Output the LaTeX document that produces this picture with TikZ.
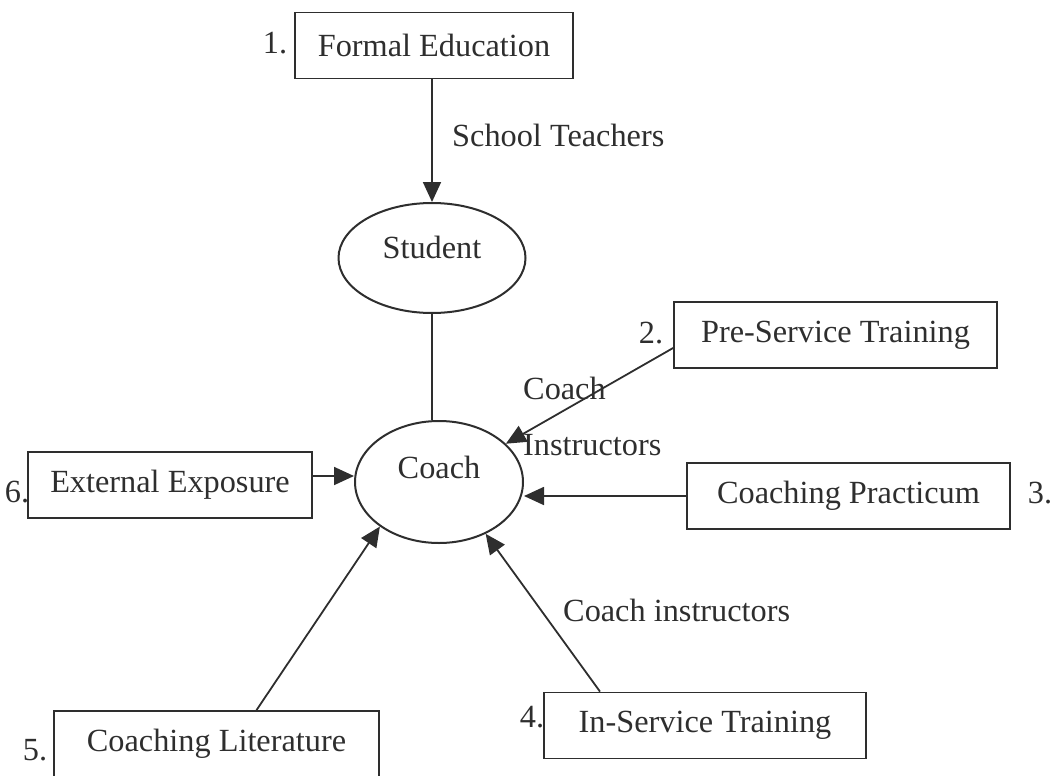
\documentclass[tikz,border=0pt]{standalone}
\usepackage{fontspec}
\setmainfont{Liberation Serif}
\usetikzlibrary{arrows.meta,shapes.geometric}
\definecolor{ink}{HTML}{2E2E2E}
\begin{document}
\begin{tikzpicture}[x=1pt,y=-1pt,
  every node/.style={text=ink,font=\fontsize{32.3}{38}\selectfont},
  source/.style={draw=ink,line width=1.8pt,rectangle,inner sep=0pt,minimum height=66pt},
  person/.style={draw=ink,line width=2pt,ellipse,inner sep=0pt},
  tag/.style={inner sep=0pt},
  flow/.style={draw=ink,line width=1.8pt,-{Triangle[length=20pt,width=18pt]}},
  link/.style={draw=ink,line width=1.8pt}]
\useasboundingbox (0,0) rectangle (1057,776);

% the six sources of coaching knowledge
\node[source,minimum width=278pt] (formal) at (434,45.5) {Formal Education};
\node[source,minimum width=323pt] (pre)    at (835.5,335) {Pre-Service Training};
\node[source,minimum width=323pt] (prac)   at (848.5,496) {Coaching Practicum};
\node[source,minimum width=284pt] (ext)    at (170,485) {External Exposure};
\node[source,minimum width=322pt] (ins)    at (705,725.5) {In-Service Training};
\node[source,minimum width=325pt] (lit)    at (216.5,744) {Coaching Literature};

% numbering
\node[tag] (n1) at (275,43) {1.};
\node[tag] (n2) at (651,333) {2.};
\node[tag] (n3) at (1040,493) {3.};
\node[tag] (n4) at (532,717) {4.};
\node[tag] (n5) at (35,750) {5.};
\node[tag] (n6) at (17,492) {6.};

% the learner
\node[person,minimum width=187pt,minimum height=110pt] (student) at (432,258) {\smash{Student}};
\node[person,minimum width=168pt,minimum height=122pt] (coach) at (439,482) {\smash{\raisebox{4pt}{Coach}}};

% connectors
\draw[flow] (formal.south -| student.north) -- (student.north);
\draw[link] (student.south) -- (student.south |- coach.north);
\draw[flow] ([yshift=-13pt]pre.west) -- (coach);
\draw[flow] (prac.west) -- (prac.west -| coach.east);
\draw[flow] ([yshift=9pt]ext.east) -- ([yshift=9pt]ext.east -| coach.west);
\draw[flow] ([xshift=40pt]lit.north) -- (coach.217);
\draw[flow] ([xshift=-105pt]ins.north) -- (coach.312);

% connector labels
\node[tag,anchor=west] (lteach) at (452,135) {School Teachers};
\node[tag,anchor=west] (lcoach) at (523,388) {Coach};
\node[tag,anchor=west] (linst)  at (523,445) {Instructors};
\node[tag,anchor=west] (lins)   at (563,610) {Coach instructors};
\end{tikzpicture}
\end{document}
